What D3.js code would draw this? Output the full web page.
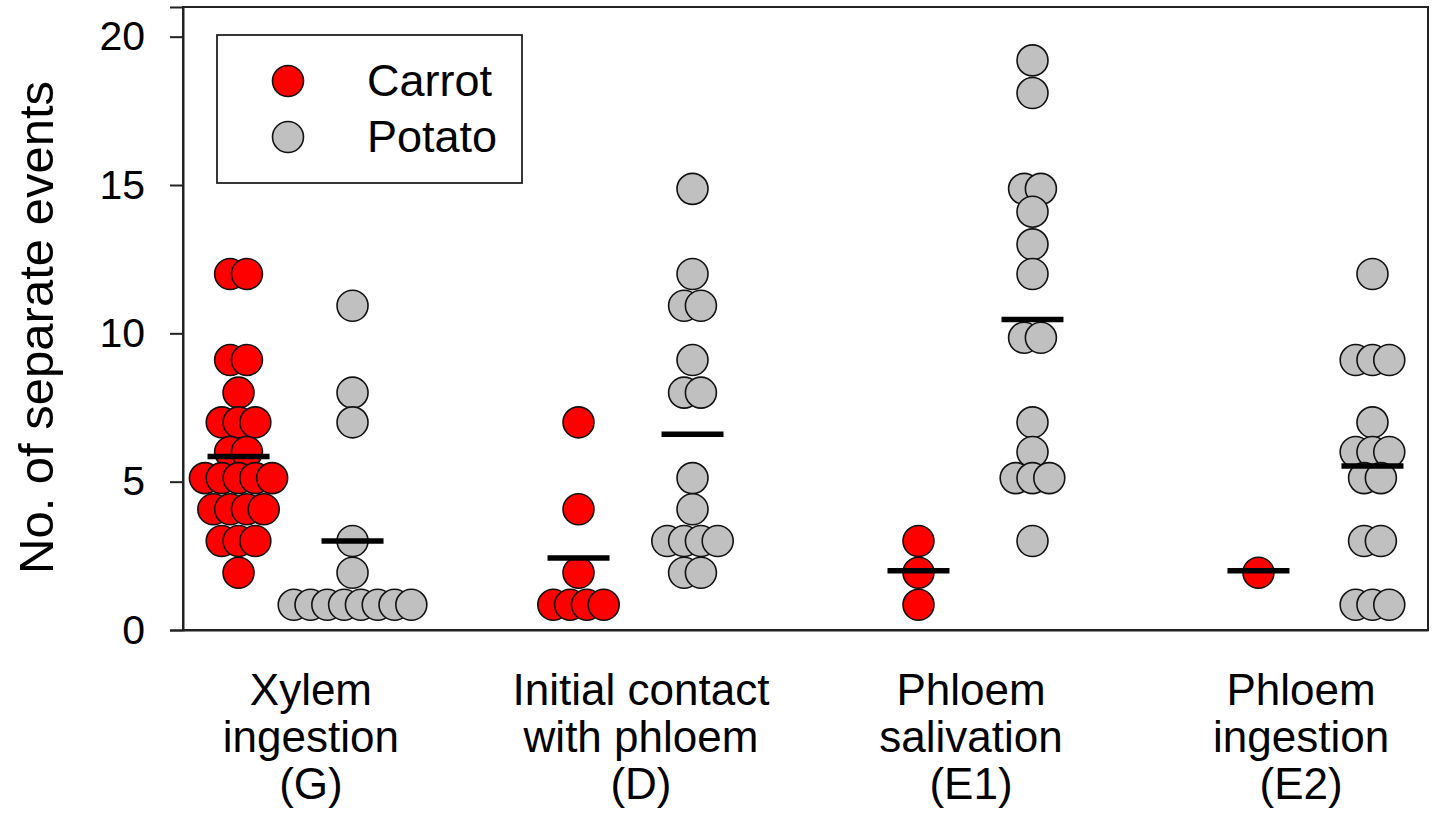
<!DOCTYPE html>
<html>
<head>
<meta charset="utf-8">
<script src="https://cdn.jsdelivr.net/npm/d3@7"></script>
<style>
  html, body { margin: 0; padding: 0; background: #fff; }
  svg { display: block; font-family: "Liberation Sans", Arial, sans-serif; }
</style>
</head>
<body>
<svg id="chart" width="1435" height="815"></svg>
<script>
// ---------- data ----------
const categories = ["Xylem ingestion (G)", "Initial contact with phloem (D)", "Phloem salivation (E1)", "Phloem ingestion (E2)"];
const categoryLines = [
  ["Xylem", "ingestion", "(G)"],
  ["Initial contact", "with phloem", "(D)"],
  ["Phloem", "salivation", "(E1)"],
  ["Phloem", "ingestion", "(E2)"]
];
const seriesNames = ["Carrot", "Potato"];
const seriesColors = ["#ff0000", "#c0c0c0"];

// values (one entry per dot)
const carrotValues = [
  [12, 12, 9.1, 9.1, 8, 7, 7, 7, 6, 6, 5.12, 5.12, 5.12, 5.12, 5.12, 4.07, 4.07, 4.07, 4.07, 3, 3, 3, 1.93],
  [7, 4.07, 1.93, 0.85, 0.85, 0.85, 0.85],
  [3, 1.93, 0.85],
  [1.93]
];
const potatoValues = [
  [10.93, 8, 7, 3, 1.93, 0.85, 0.85, 0.85, 0.85, 0.85, 0.85, 0.85, 0.85],
  [14.87, 12, 10.93, 10.93, 9.1, 8, 8, 5.12, 4.07, 3, 3, 3, 3, 1.93, 1.93],
  [19.2, 18.1, 14.87, 14.87, 14.1, 13, 12, 9.85, 9.85, 7, 6, 5.12, 5.12, 5.12, 3],
  [12, 9.1, 9.1, 9.1, 7, 6, 6, 6, 5.12, 5.12, 3, 3, 0.85, 0.85, 0.85]
];
const carrotMeans = [5.85, 2.43, 2.0, 2.0];
const potatoMeans = [3.0, 6.6, 10.47, 5.53];

const yTicks = [0, 5, 10, 15, 20];
const yLabel = "No. of separate events";

// ---------- layout ----------
const svg = d3.select("#chart");
const pL = 183, pR = 1428, pT = 7, pB = 630;
const R = 15.5, STEP = 16.8;

const y = d3.scaleLinear().domain([0, 21]).range([pB, pT]);
const x = d3.scalePoint().domain(categories).range([pL, pR]).padding(0.331);
const xLab = d3.scalePoint().domain(categories).range([pL, pR]).padding(0.386);
const xs = d3.scalePoint().domain(seriesNames).range([-57, 57]);

// frame
svg.append("rect")
  .attr("x", pL).attr("y", pT)
  .attr("width", pR - pL).attr("height", pB - pT)
  .attr("fill", "none").attr("stroke", "#222").attr("stroke-width", 2);

// y axis
const yAxis = svg.append("g")
  .attr("transform", `translate(${pL},0)`)
  .call(d3.axisLeft(y).tickValues(yTicks).tickSize(13).tickPadding(25));
yAxis.select(".domain").attr("stroke", "#222").attr("stroke-width", 2);
yAxis.selectAll(".tick line").attr("stroke", "#222").attr("stroke-width", 2);
yAxis.selectAll(".tick text")
  .attr("fill", "#000").attr("font-size", 41)
  .attr("font-family", "Liberation Sans, Arial, sans-serif");

// x axis (category labels)
const xAxis = svg.append("g")
  .attr("transform", `translate(0,${pB})`)
  .call(d3.axisBottom(xLab).tickSize(0).tickSizeOuter(0));
xAxis.select(".domain").attr("stroke", "#222").attr("stroke-width", 2);
xAxis.selectAll(".tick text").each(function(d, i) {
  const t = d3.select(this);
  t.text(null).attr("dy", null).attr("y", 0)
    .attr("fill", "#000").attr("font-size", 44)
    .attr("font-family", "Liberation Sans, Arial, sans-serif")
    .attr("text-anchor", "middle");
  categoryLines[i].forEach((line, k) => {
    t.append("tspan").attr("x", 0).attr("y", 75 + k * 47).text(line);
  });
});

// y title
svg.append("text")
  .attr("transform", `translate(53,${(pT + pB) / 2 + 9}) rotate(-90)`)
  .attr("text-anchor", "middle")
  .attr("font-size", 49)
  .attr("fill", "#000")
  .text(yLabel);

// dots (beeswarm rows)
function swarm(values) {
  const counts = d3.rollup(values, v => v.length, v => v);
  const seen = new Map();
  return values.map(v => {
    const n = counts.get(v);
    const k = seen.get(v) || 0;
    seen.set(v, k + 1);
    return { v, off: (k - (n - 1) / 2) * STEP };
  });
}

const allValues = [carrotValues, potatoValues];
const allMeans = [carrotMeans, potatoMeans];

categories.forEach((cat, ci) => {
  seriesNames.forEach((s, si) => {
    const pts = swarm(allValues[si][ci]);
    const cx = x(cat) + xs(s);
    svg.append("g").selectAll("circle")
      .data(pts).enter().append("circle")
      .attr("cx", d => cx + d.off)
      .attr("cy", d => y(d.v))
      .attr("r", R)
      .attr("fill", seriesColors[si])
      .attr("stroke", "#111")
      .attr("stroke-width", 1.6);
  });
});

// mean lines
categories.forEach((cat, ci) => {
  seriesNames.forEach((s, si) => {
    const cx = x(cat) + xs(s);
    svg.append("line")
      .attr("x1", cx - 31).attr("x2", cx + 31)
      .attr("y1", y(allMeans[si][ci])).attr("y2", y(allMeans[si][ci]))
      .attr("stroke", "#000").attr("stroke-width", 5.5);
  });
});

// legend
const lg = svg.append("g");
lg.append("rect")
  .attr("x", 217).attr("y", 35).attr("width", 305).attr("height", 148)
  .attr("fill", "#fff").attr("stroke", "#222").attr("stroke-width", 1.8);
seriesNames.forEach((s, i) => {
  lg.append("circle")
    .attr("cx", 288).attr("cy", 81 + i * 56).attr("r", R)
    .attr("fill", seriesColors[i]).attr("stroke", "#111").attr("stroke-width", 1.6);
  lg.append("text")
    .attr("x", 367).attr("y", 96 + i * 56)
    .attr("font-size", 45).attr("fill", "#000")
    .text(s);
});
</script>
</body>
</html>
